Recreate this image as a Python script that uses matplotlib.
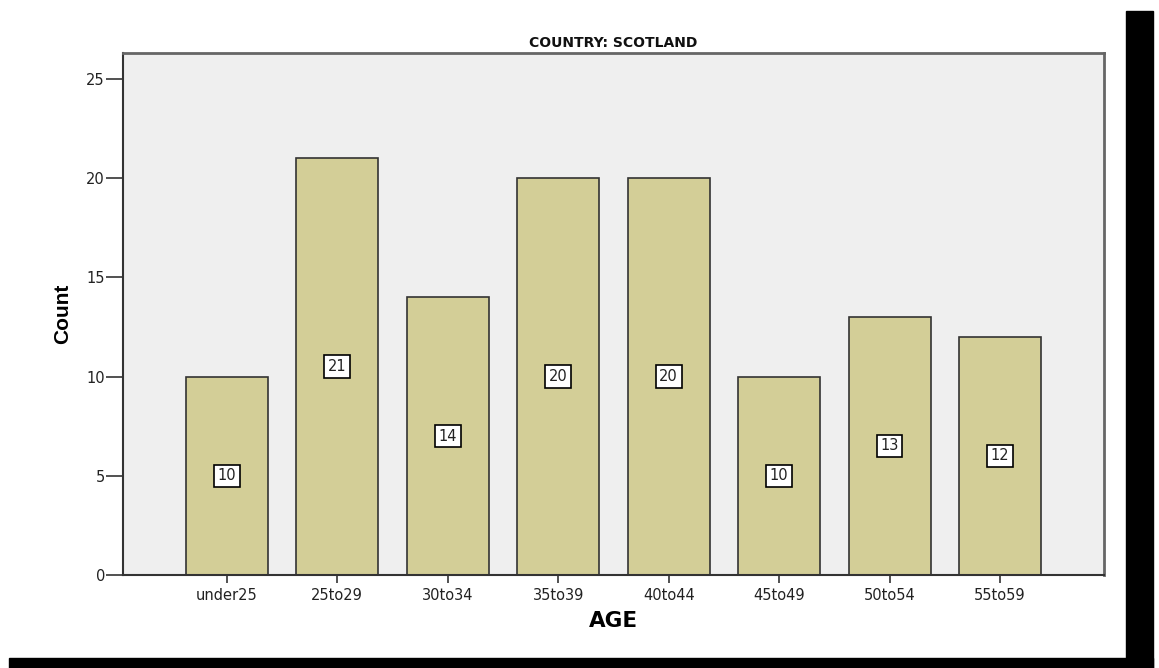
import matplotlib
matplotlib.use("Agg")
import matplotlib.pyplot as plt
from matplotlib.patches import Rectangle

# age groups and counts for Scotland
age_groups = ["under25", "25to29", "30to34", "35to39", "40to44", "45to49", "50to54", "55to59"]
counts = [10, 21, 14, 20, 20, 10, 13, 12]
yticks = [0, 5, 10, 15, 20, 25]

plt.rcParams['font.family'] = ['DejaVu Sans']

fig = plt.figure(figsize=(11.59, 6.68), dpi=100)
fig.patch.set_facecolor("white")

# black "shadow" frame on right and bottom
fig.patches.append(Rectangle((1126 / 1159, 0), 27 / 1159, 657 / 668,
                             transform=fig.transFigure, color="black", zorder=0))
fig.patches.append(Rectangle((9 / 1159, 0), 1144 / 1159, 10 / 668,
                             transform=fig.transFigure, color="black", zorder=0))

ax = fig.add_axes([0.1061, 0.1392, 0.8464, 0.7815])
ax.set_facecolor("#efefef")

x = range(len(age_groups))
ax.bar(x, counts, width=0.74, color="#d3ce97", edgecolor="#333333", linewidth=1.2, zorder=2)

# value labels in white boxes at half height
for i, c in zip(x, counts):
    ax.text(i, c / 2, str(c), ha="center", va="center", fontsize=10.5, color="#222222", zorder=3,
            bbox=dict(boxstyle="square,pad=0.25", fc="white", ec="black", lw=1.2))

ax.set_xlim(-0.94, 7.94)
ax.set_ylim(0, 26.3)
ax.set_xticks(list(x))
ax.set_xticklabels(age_groups, fontsize=10.5, color="#222222")
ax.set_yticks(yticks)
ax.set_yticklabels([str(t) for t in yticks], fontsize=10.5, color="#222222")
ax.tick_params(axis="y", direction="out", length=12, width=1.2, color="#333333", pad=1)
ax.tick_params(axis="x", direction="out", length=6, width=1.2, color="#333333", pad=3)

for side in ["left", "bottom"]:
    ax.spines[side].set_color("#333333")
    ax.spines[side].set_linewidth(1.5)
for side in ["top", "right"]:
    ax.spines[side].set_color("#666666")
    ax.spines[side].set_linewidth(2)

ax.set_title("COUNTRY: SCOTLAND", fontsize=10, fontweight="bold", pad=4, color="#111111")
ax.set_xlabel("AGE", fontsize=15.5, fontweight="bold", labelpad=6)
ax.set_ylabel("Count", fontsize=15, fontweight="bold", labelpad=10,
              family=['Liberation Sans Narrow', 'Liberation Sans', 'DejaVu Sans'])

fig.savefig("out.png", dpi=100)
